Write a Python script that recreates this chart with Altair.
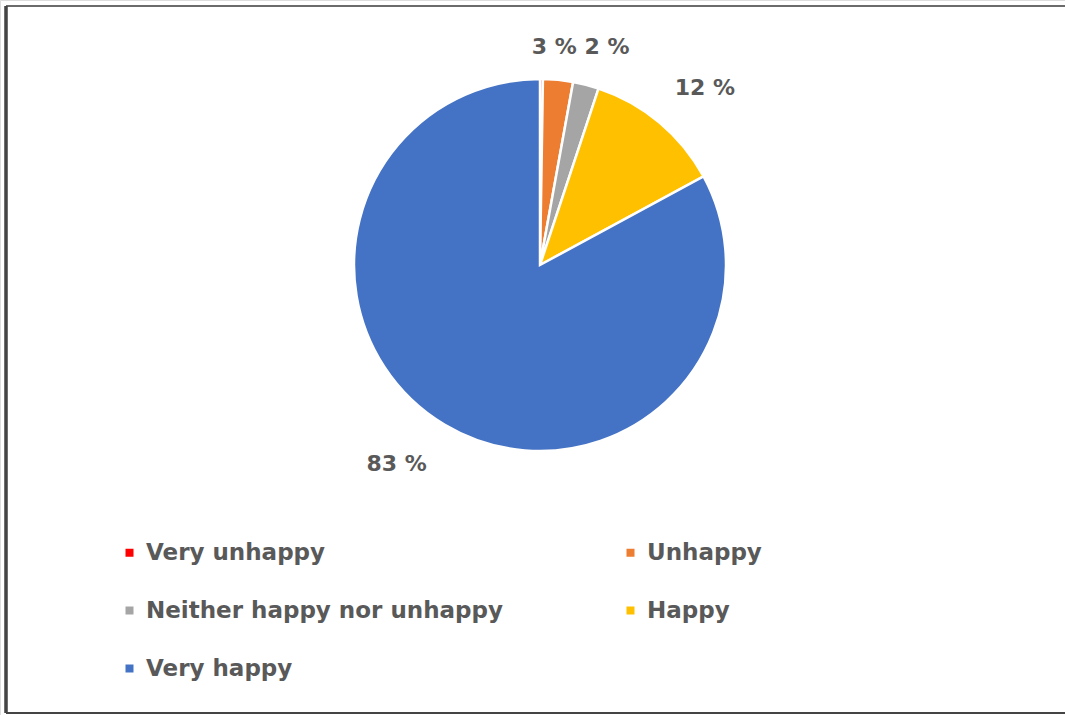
import altair as alt
import pandas as pd
import math

# ---- data ----
categories = ["Very unhappy", "Unhappy", "Neither happy nor unhappy", "Happy", "Very happy"]
shares = [0.25, 2.6, 2.25, 12.0, 82.9]
label_texts = ["", "3 %", "2 %", "12 %", "83 %"]
colors = ["#FF0000", "#ED7D31", "#A5A5A5", "#FFC000", "#4472C4"]

df = pd.DataFrame({
    "idx": list(range(len(categories))),
    "category": categories,
    "share": shares,
    "label": label_texts,
})

# ---- layout / style ----
W, H = 1065, 715
CX, CY, R = 540, 265, 186
FONT = "DejaVu Sans"
TXT = "#595959"
# per-label placement (radius, dx, dy) - Excel-like outside labels
label_style = {
    "Unhappy": (218, -7, -1),
    "Neither happy nor unhappy": (227, 11, 2),
    "Happy": (241, 10, 8),
    "Very happy": (245, -18, -11),
}

TWO_PI = 2 * math.pi

pie = alt.Chart(df).mark_arc(
    outerRadius=R, stroke="white", strokeWidth=2.5
).encode(
    x=alt.value(CX),
    y=alt.value(CY),
    theta=alt.Theta("share:Q", stack=True, scale=alt.Scale(domain=[0, 100], range=[0, TWO_PI])),
    order=alt.Order("idx:Q"),
    color=alt.Color(
        "category:N",
        sort=categories,
        scale=alt.Scale(domain=categories, range=colors),
        legend=alt.Legend(
            title=None,
            orient="none",
            legendX=118,
            legendY=541,
            direction="horizontal",
            columns=2,
            columnPadding=116,
            rowPadding=34,
            padding=0,
            symbolType="square",
            symbolSize=64,
            symbolStrokeWidth=0,
            labelFont=FONT,
            labelFontSize=23,
            labelFontWeight="bold",
            labelColor=TXT,
            labelOffset=5,
            labelLimit=0,
        ),
    ),
)

layers = [pie]
for cat, (rad, ddx, ddy) in label_style.items():
    t = alt.Chart(df).transform_window(
        cum="sum(share)", sort=[alt.SortField("idx", order="ascending")]
    ).transform_calculate(
        mid="datum.cum - datum.share / 2"
    ).transform_filter(
        alt.datum.category == cat
    ).mark_text(
        radius=rad, dx=ddx, dy=ddy, font=FONT, fontSize=22, fontWeight="bold",
        color=TXT, align="center", baseline="middle"
    ).encode(
        x=alt.value(CX),
        y=alt.value(CY),
        theta=alt.Theta("mid:Q", scale=alt.Scale(domain=[0, 100], range=[0, TWO_PI])),
        text="label:N",
    )
    layers.append(t)

# chart-area border (right edge is cropped off in the reference)
border_top = alt.Chart(df).mark_rule(color="#6b6b6b", strokeWidth=2).encode(
    x=alt.value(6), x2=alt.value(W), y=alt.value(6)
)
border_left = alt.Chart(df).mark_rule(color="#444444", strokeWidth=2.5).encode(
    x=alt.value(6), y=alt.value(6), y2=alt.value(713)
)
border_bottom = alt.Chart(df).mark_rule(color="#444444", strokeWidth=2).encode(
    x=alt.value(6), x2=alt.value(W), y=alt.value(713)
)
layers += [border_top, border_left, border_bottom]

chart = alt.layer(*layers).resolve_scale(theta="independent").properties(
    width=W, height=H, padding=0, autosize=alt.AutoSizeParams(type="none")
).configure_view(stroke=None).configure(background="white")

chart.save("out.html", embed_options={"renderer": "svg", "actions": False})
